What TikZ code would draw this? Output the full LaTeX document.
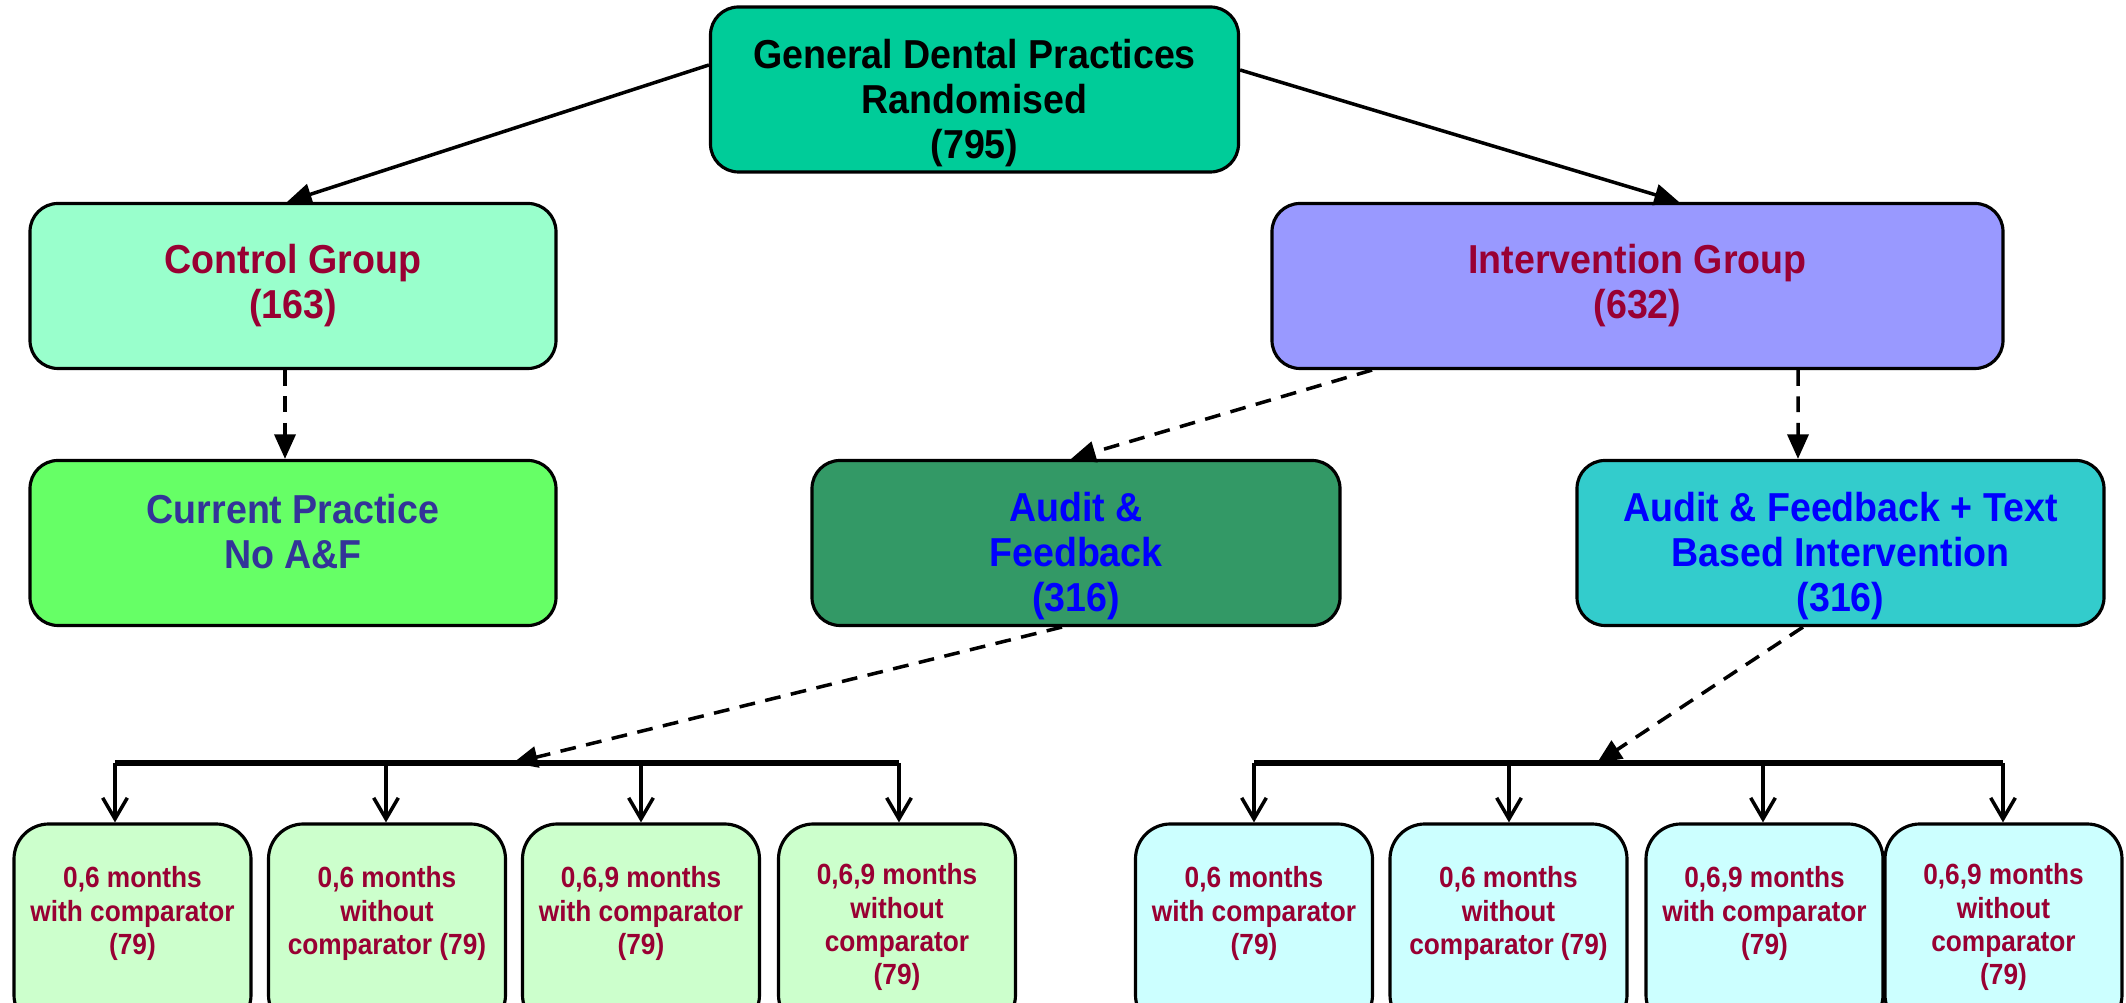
\documentclass[tikz,border=0pt]{standalone}
\usepackage{fontspec}
\setmainfont{Liberation Sans}[FakeStretch=0.93]
\newfontfamily\armfont{Liberation Sans}[FakeStretch=0.9]
\usetikzlibrary{arrows.meta,positioning,calc}

\definecolor{topgreen}{HTML}{00CC99}
\definecolor{ctrlgreen}{HTML}{99FFCC}
\definecolor{intblue}{HTML}{9999FF}
\definecolor{curgreen}{HTML}{66FF66}
\definecolor{afgreen}{HTML}{339966}
\definecolor{aftcyan}{HTML}{33CCCC}
\definecolor{paleleft}{HTML}{CCFFCC}
\definecolor{paleright}{HTML}{CCFFFF}
\definecolor{maroon}{HTML}{990033}
\definecolor{navy}{HTML}{333399}
\definecolor{textblue}{HTML}{0000FF}

\begin{document}
\begin{tikzpicture}
[box/.style={draw=black,line width=0.9pt,rounded corners=0.28cm,align=center,
  inner sep=0pt,font=\bfseries\fontsize{11.5}{12.8}\selectfont},
bigbox/.style={box,minimum width=5.28cm,minimum height=1.65cm},
armbox/.style={box,minimum width=2.37cm,minimum height=2.06cm,rounded corners=0.35cm,
  text=maroon,font=\armfont\bfseries\fontsize{8.3}{9.4}\selectfont},
myarrow/.style={line width=1pt,-{Triangle[length=7pt,width=6pt]}},
dasharrow/.style={myarrow,dash pattern=on 4.5pt off 3pt},
droparrow/.style={line width=1pt,-{Straight Barb[length=6pt,width=7pt]}},
bar/.style={line width=1.6pt}]
\useasboundingbox (0,0) rectangle (21.26,-10.03);
%%
\node (gdp) [bigbox,fill=topgreen] at (9.745,-0.895) {\mbox{}\\[3.2pt]General Dental Practices\\Randomised\\(795)};
\node (ctrl) [bigbox,fill=ctrlgreen,text=maroon,minimum width=5.26cm] at (2.93,-2.86) {Control Group\\(163)};
\node (intv) [bigbox,fill=intblue,text=maroon,minimum width=7.31cm] at (16.375,-2.86) {Intervention Group\\(632)};
\draw[myarrow] ($(gdp.west)+(0,0.245)$) -- ($(ctrl.north)+(-0.06,0)$);
\draw[myarrow] ($(gdp.east)+(0,0.195)$) -- ($(intv.north)+(0.415,0)$);
%%
\node (cur) [bigbox,fill=curgreen,text=navy,minimum width=5.26cm] at (2.93,-5.43) {Current Practice\\No A\&F\\[-6pt]\mbox{}};
\node (af) [bigbox,fill=afgreen,text=textblue] at (10.76,-5.43) {\mbox{}\\[3.2pt]Audit \&\\Feedback\\(316)};
\node (aft) [bigbox,fill=aftcyan,text=textblue,minimum width=5.27cm] at (18.405,-5.43) {\mbox{}\\[3.2pt]Audit \& Feedback + Text\\Based Intervention\\(316)};
\draw[dasharrow] ($(ctrl.south)+(-0.08,0)$) -- ($(cur.north)+(-0.08,0)$);
\draw[dasharrow] ($(intv.south)+(-2.655,0)$) -- ($(af.north)+(-0.05,0)$);
\draw[dasharrow] ($(intv.south)+(1.605,0)$) -- ($(aft.north)+(-0.425,0)$);
%%
\coordinate (l1) at (1.15,-7.63);
\coordinate (l2) at (3.86,-7.63);
\coordinate (l3) at (6.41,-7.63);
\coordinate (l4) at (8.99,-7.63);
\coordinate (lm) at (5.13,-7.63);
\coordinate (r1) at (12.54,-7.63);
\coordinate (r2) at (15.09,-7.63);
\coordinate (r3) at (17.63,-7.63);
\coordinate (r4) at (20.03,-7.63);
\coordinate (rm) at (15.97,-7.63);
\draw[bar] (l1) -- (l4);
\draw[bar] (r1) -- (r4);
\draw[dasharrow] ($(af.south)+(-0.14,0)$) -- (lm);
\draw[dasharrow] ($(aft.south)+(-0.375,0)$) -- (rm);
%%
\node (bl1) [armbox,fill=paleleft] at (1.325,-9.27) {0,6 months\\with comparator\\(79)\\\mbox{}};
\node (bl2) [armbox,fill=paleleft] at (3.87,-9.27) {0,6 months\\without\\comparator (79)\\\mbox{}};
\node (bl3) [armbox,fill=paleleft] at (6.41,-9.27) {0,6,9 months\\with comparator\\(79)\\\mbox{}};
\node (bl4) [armbox,fill=paleleft] at (8.97,-9.27) {0,6,9 months\\without\\comparator\\(79)};
\node (br1) [armbox,fill=paleright] at (12.54,-9.27) {0,6 months\\with comparator\\(79)\\\mbox{}};
\node (br2) [armbox,fill=paleright] at (15.085,-9.27) {0,6 months\\without\\comparator (79)\\\mbox{}};
\node (br3) [armbox,fill=paleright] at (17.645,-9.27) {0,6,9 months\\with comparator\\(79)\\\mbox{}};
\node (br4) [armbox,fill=paleright] at (20.035,-9.27) {0,6,9 months\\without\\comparator\\(79)};
\foreach \a/\b in {l1/bl1,l2/bl2,l3/bl3,l4/bl4,r1/br1,r2/br2,r3/br3,r4/br4}
  \draw[droparrow] (\a) -- (\a |- \b.north);
\end{tikzpicture}
\end{document}
